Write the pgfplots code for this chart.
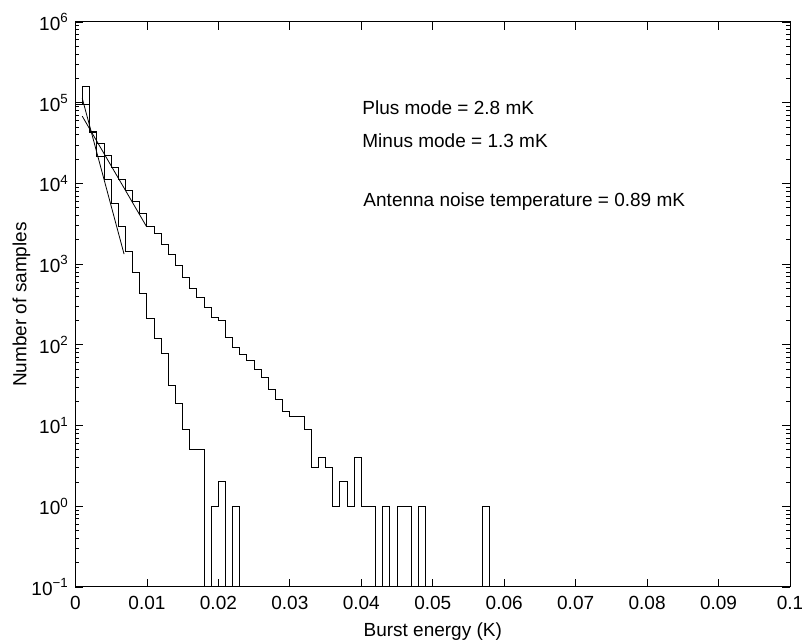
\documentclass[border=0pt]{standalone}
\usepackage{fontspec}
\setmainfont{Liberation Sans}
\usepackage{pgfplots}
\pgfplotsset{compat=1.18}
\begin{document}
\fontsize{9.5}{11}\selectfont
\begin{tikzpicture}
\begin{axis}[
  scale only axis, width=357.25pt, height=282.5pt,
  xmin=0, xmax=0.1, ymin=1e-1, ymax=1e6, ymode=log,
  xtick={0,0.01,0.02,0.03,0.04,0.05,0.06,0.07,0.08,0.09,0.1},
  xticklabels={0,0.01,0.02,0.03,0.04,0.05,0.06,0.07,0.08,0.09,0.1},
  ytick={1e-1,1,10,100,1000,10000,100000,1000000},
  yticklabels={10\textsuperscript{−1},10\textsuperscript{0},10\textsuperscript{1},10\textsuperscript{2},10\textsuperscript{3},10\textsuperscript{4},10\textsuperscript{5},10\textsuperscript{6}},
  ticklabel style={font=\fontsize{9.5}{11}\selectfont},
  label style={font=\fontsize{9.5}{11}\selectfont},
  xticklabel style={yshift=-1pt},
  xlabel={Burst energy (K)}, ylabel={Number of samples},
  ylabel shift=-6pt,
  major tick length=4pt, minor tick length=2pt,
  tick style={black, line width=0.4pt},
  axis line style={line width=0.5pt},
  every axis plot/.append style={line width=0.5pt, black},
]
\coordinate (bl) at (rel axis cs:0,0);
\coordinate (tr) at (rel axis cs:1,1);
% Plus mode histogram
\addplot[const plot mark left] coordinates {
(0,9.6e4) (0.001,1.57e5) (0.002,4.35e4) (0.003,3.13e4) (0.004,2.22e4)
(0.005,1.58e4) (0.006,1.13e4) (0.007,8.1e3) (0.008,5.9e3) (0.009,4.3e3)
(0.010,2.95e3) (0.011,2.4e3) (0.012,1.77e3) (0.013,1.33e3) (0.014,975)
(0.015,680) (0.016,502) (0.017,388) (0.018,287) (0.019,216)
(0.020,203) (0.021,123) (0.022,92) (0.023,77) (0.024,64)
(0.025,49) (0.026,39) (0.027,28) (0.028,21) (0.029,15)
(0.030,13) (0.031,13) (0.032,9) (0.033,3) (0.034,4)
(0.035,3) (0.036,1) (0.037,2) (0.038,1) (0.039,4)
(0.040,1) (0.041,1) (0.042,0.001) (0.043,1) (0.044,0.001)
(0.045,1) (0.046,1) (0.047,0.001) (0.048,1) (0.049,0.001)
(0.057,1) (0.058,0.001) (0.060,0.001)
};
% Minus mode histogram
\addplot[const plot mark left] coordinates {
(0,9.6e4) (0.001,9.6e4) (0.002,4.3e4) (0.003,2.18e4) (0.004,1.12e4)
(0.005,5.65e3) (0.006,2.9e3) (0.007,1.43e3) (0.008,791) (0.009,427)
(0.010,210) (0.011,119) (0.012,79) (0.013,31) (0.014,19)
(0.015,9) (0.016,5) (0.017,5) (0.018,0.001) (0.019,1)
(0.020,2) (0.021,0.001) (0.022,1) (0.023,0.001) (0.025,0.001)
};
% Exponential fits
\addplot[line width=0.4pt] coordinates {(0.00095,1.13e5) (0.0068,1.33e3)};
\addplot[line width=0.4pt] coordinates {(0.00095,6.8e4) (0.00996,2.9e3)};
\node[anchor=base west, inner sep=0pt] at (axis cs:0.0401,7.2e4) {Plus mode = 2.8 mK};
\node[anchor=base west, inner sep=0pt] at (axis cs:0.0401,2.81e4) {Minus mode = 1.3 mK};
\node[anchor=base west, inner sep=0pt] at (axis cs:0.04025,5.13e3) {Antenna noise temperature = 0.89 mK};
\end{axis}
\pgfresetboundingbox
\path[use as bounding box] ([xshift=-37.75pt,yshift=-27pt]bl) rectangle ([xshift=6pt,yshift=11pt]tr);
\end{tikzpicture}
\end{document}
